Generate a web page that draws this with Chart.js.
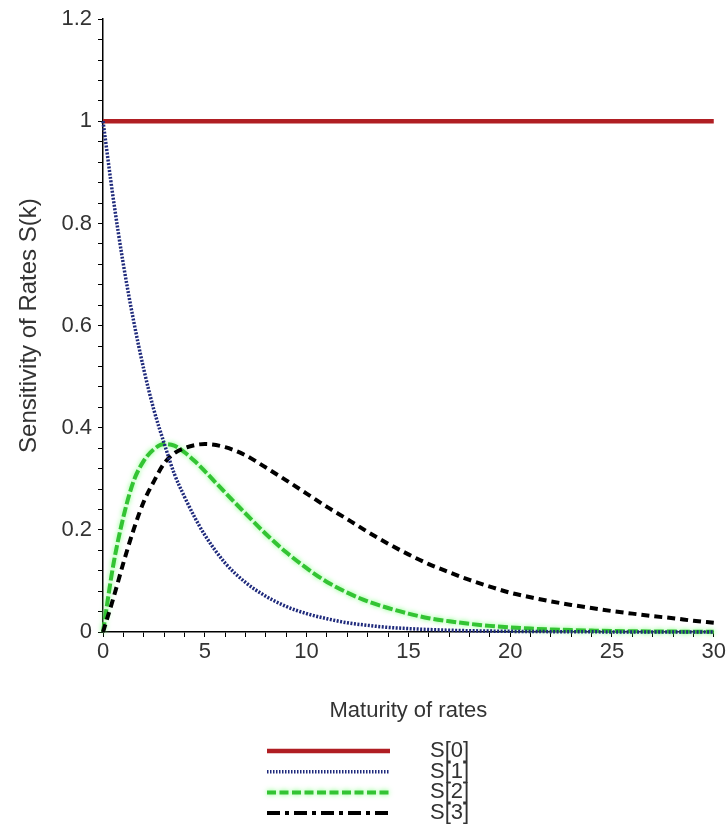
<!DOCTYPE html>
<html>
<head>
<meta charset="utf-8">
<title>Sensitivity of Rates S(k)</title>
<script src="https://cdn.jsdelivr.net/npm/chart.js@4.4.1/dist/chart.umd.min.js"></script>
<style>
  body { margin: 0; background: #fff; }
  canvas { display: block; }
</style>
</head>
<body>
<canvas id="myChart" width="728" height="829"></canvas>
<script>
// values
let maturity = [0, 0.5, 1, 1.5, 2, 2.5, 3, 3.5, 4, 4.5, 5, 6, 7, 8, 9, 10, 11, 12, 13, 14, 15,
  16, 17, 18, 19, 20, 21, 22, 23, 24, 25, 26, 27, 28, 29, 30];
let s0 = [1, 1, 1, 1, 1, 1, 1, 1, 1, 1, 1, 1, 1, 1, 1, 1, 1, 1, 1, 1, 1,
  1, 1, 1, 1, 1, 1, 1, 1, 1, 1, 1, 1, 1, 1, 1];
let s1 = [1.0, 0.85, 0.72, 0.61, 0.515, 0.435, 0.37, 0.31, 0.265, 0.225, 0.19, 0.135, 0.097, 0.07, 0.05, 0.036,
  0.026, 0.018, 0.013, 0.009, 0.0067, 0.0048, 0.0035, 0.0025, 0.0018, 0.0013, 0.0009, 0.0007, 0.0005,
  0.0003, 0.0002, 0.0002, 0.0001, 0.0001, 0.0001, 0];
let s2 = [0, 0.13, 0.225, 0.295, 0.335, 0.358, 0.368, 0.365, 0.352, 0.335, 0.315, 0.273, 0.232, 0.192, 0.156,
  0.125, 0.098, 0.077, 0.06, 0.047, 0.036, 0.027, 0.021, 0.016, 0.012, 0.009, 0.0067, 0.005, 0.0037,
  0.0028, 0.002, 0.0015, 0.0011, 0.0008, 0.0006, 0.0005];
let s3 = [0, 0.065, 0.135, 0.2, 0.255, 0.295, 0.33, 0.35, 0.36, 0.366, 0.368, 0.362, 0.346, 0.322, 0.297,
  0.271, 0.245, 0.221, 0.196, 0.173, 0.152, 0.133, 0.117, 0.102, 0.089, 0.077, 0.068, 0.06, 0.053,
  0.047, 0.041, 0.036, 0.031, 0.027, 0.022, 0.018];

let xLabels = [0, 5, 10, 15, 20, 25, 30];
let yLabels = [0, 0.2, 0.4, 0.6, 0.8, 1, 1.2];

let FONT = '"Liberation Sans", Arial, sans-serif';

let toPoints = (xs, ys) => xs.map((x, i) => ({ x: x, y: ys[i] }));

let onList = (v, list) => list.some((l) => Math.abs(l - v) < 1e-6);

// halo round the green curve, like the jpeg bleed in the original
let glowPlugin = {
  id: 'glow',
  beforeDatasetDraw(chart, args) {
    let ds = chart.data.datasets[args.index];
    chart.ctx.save();
    if (ds.glow) {
      chart.ctx.shadowColor = ds.glow;
      chart.ctx.shadowBlur = 5;
    }
  },
  afterDatasetDraw(chart) {
    chart.ctx.restore();
  }
};

// stacked legend under the axis title: long line sample, text far to the right
let stackLegend = {
  id: 'stackLegend',
  afterDraw(chart) {
    let ctx = chart.ctx;
    chart.data.datasets.forEach((ds, i) => {
      let y = 751 + i * 20.7;
      ctx.save();
      if (ds.glow) {
        ctx.shadowColor = ds.glow;
        ctx.shadowBlur = 5;
      }
      ctx.strokeStyle = ds.borderColor;
      ctx.lineWidth = ds.borderWidth;
      ctx.setLineDash(ds.legendDash || []);
      ctx.beginPath();
      ctx.moveTo(267, y);
      ctx.lineTo(390, y);
      ctx.stroke();
      ctx.restore();

      ctx.save();
      ctx.fillStyle = '#333';
      ctx.font = '22px ' + FONT;
      ctx.textBaseline = 'middle';
      ctx.textAlign = 'left';
      ctx.fillText(ds.label, 430, y);
      ctx.restore();
    });
  }
};

let plot = () => {
  const ctx = document.getElementById('myChart');
  const common = {
    showLine: true,
    fill: false,
    pointRadius: 0,
    pointHoverRadius: 0,
    cubicInterpolationMode: 'monotone',
    clip: false
  };
  const dataset = {
    datasets: [
      Object.assign({}, common, {
        label: 'S[0]', data: toPoints(maturity, s0),
        borderColor: '#b01e23', borderWidth: 4.5, order: 3
      }),
      Object.assign({}, common, {
        label: 'S[1]', data: toPoints(maturity, s1),
        borderColor: '#1f2a7c', borderWidth: 3.5, borderDash: [2, 1.5],
        legendDash: [1.5, 1.5], order: 0
      }),
      Object.assign({}, common, {
        label: 'S[2]', data: toPoints(maturity, s2),
        borderColor: '#33c433', borderWidth: 4, borderDash: [10, 3],
        legendDash: [9, 3.5], glow: 'rgba(120,255,120,0.9)', order: 2
      }),
      Object.assign({}, common, {
        label: 'S[3]', data: toPoints(maturity, s3),
        borderColor: '#000000', borderWidth: 4, borderDash: [8, 5],
        legendDash: [13, 5, 4, 5], order: 1
      })
    ]
  };
  const config = {
    type: 'scatter',
    data: dataset,
    options: {
      responsive: false,
      animation: false,
      layout: { padding: { top: 15, right: 12, bottom: 100, left: 0 } },
      plugins: {
        legend: { display: false },
        tooltip: { enabled: false }
      },
      scales: {
        x: {
          type: 'linear',
          min: 0,
          max: 30,
          border: { color: '#000', width: 1.5 },
          grid: { drawOnChartArea: false, color: '#000', tickLength: 5 },
          ticks: {
            stepSize: 1,
            autoSkip: false,
            maxRotation: 0,
            minRotation: 0,
            padding: 2,
            color: '#333',
            font: { size: 22, family: FONT },
            callback: (v) => onList(v, xLabels) ? String(Math.round(v)) : ''
          },
          title: {
            display: true,
            text: 'Maturity of rates',
            color: '#333',
            font: { size: 22, family: FONT },
            padding: { top: 0, bottom: 5 }
          },
          afterFit: (s) => { s.height = 97; }
        },
        y: {
          type: 'linear',
          min: 0,
          max: 1.2,
          border: { color: '#000', width: 1.5 },
          grid: { drawOnChartArea: false, color: '#000', tickLength: 5 },
          ticks: {
            stepSize: 0.04,
            autoSkip: false,
            padding: 6,
            color: '#333',
            font: { size: 22, family: FONT },
            callback: (v) => onList(v, yLabels) ? String(Math.round(v * 10) / 10) : ''
          },
          title: {
            display: true,
            text: 'Sensitivity of Rates S(k)',
            color: '#333',
            font: { size: 24, family: FONT },
            padding: { top: 15, bottom: 0 }
          },
          afterFit: (s) => { s.width = 103; }
        }
      }
    },
    plugins: [glowPlugin, stackLegend]
  };
  const chart = new Chart(ctx, config);
};

plot();
</script>
</body>
</html>
